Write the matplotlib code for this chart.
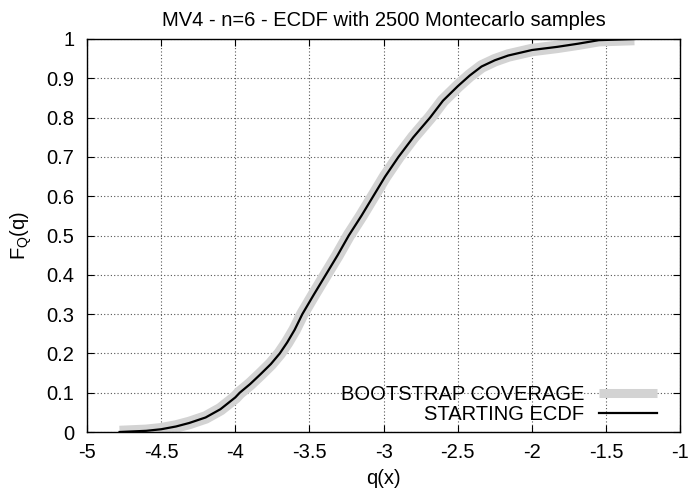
import numpy as np
import matplotlib
matplotlib.use('Agg')
import matplotlib.pyplot as plt
from matplotlib.lines import Line2D

plt.rcParams['font.family'] = ['Liberation Sans', 'DejaVu Sans']

# ECDF (q, F)
q_vals = [-4.78, -4.6, -4.5, -4.4, -4.31, -4.2, -4.1, -4.0, -3.97, -3.9, -3.83, -3.76,
          -3.7, -3.65, -3.6, -3.548, -3.47, -3.39, -3.31, -3.235, -3.15, -3.07, -2.99,
          -2.9, -2.8, -2.687, -2.6, -2.5, -2.42, -2.34, -2.25, -2.16, -2.0, -1.83,
          -1.69, -1.55, -1.31]
f_vals = [0.0, 0.003, 0.007, 0.014, 0.023, 0.037, 0.058, 0.088, 0.1, 0.122, 0.147, 0.173,
          0.2, 0.228, 0.26, 0.3, 0.35, 0.4, 0.45, 0.5, 0.55, 0.6, 0.65,
          0.7, 0.75, 0.8, 0.843, 0.88, 0.907, 0.93, 0.946, 0.958, 0.972, 0.98,
          0.988, 0.997, 1.0]

x_ticks = [-5, -4.5, -4, -3.5, -3, -2.5, -2, -1.5, -1]
x_labels = ['-5', '-4.5', '-4', '-3.5', '-3', '-2.5', '-2', '-1.5', '-1']
y_ticks = [0, 0.1, 0.2, 0.3, 0.4, 0.5, 0.6, 0.7, 0.8, 0.9, 1]
y_labels = ['0', '0.1', '0.2', '0.3', '0.4', '0.5', '0.6', '0.7', '0.8', '0.9', '1']

fs = 14.5
fig = plt.figure(figsize=(6.9, 5.0), dpi=100)
ax = fig.add_axes([0.126, 0.136, 0.860, 0.786])

# bootstrap coverage band as a wide gray stroke, starting ECDF on top
ax.plot(q_vals, f_vals, color='#d3d3d3', lw=9, solid_capstyle='butt', zorder=2)
ax.plot(q_vals, f_vals, color='black', lw=1.6, zorder=3)

ax.set_xlim(-5, -1)
ax.set_ylim(0, 1)
ax.set_xticks(x_ticks)
ax.set_xticklabels(x_labels)
ax.set_yticks(y_ticks)
ax.set_yticklabels(y_labels)
ax.tick_params(direction='in', length=5, top=True, right=True, labelsize=fs)
ax.tick_params(axis='x', pad=8)
ax.tick_params(axis='y', pad=9)
ax.grid(True, linestyle=(0, (1, 2)), color='#555555', lw=0.8)
for s in ax.spines.values():
    s.set_linewidth(1.0)

ax.set_title('MV4 - n=6 - ECDF with 2500 Montecarlo samples', fontsize=fs, pad=9)
ax.set_xlabel('q(x)', fontsize=fs, labelpad=5)
ax.set_ylabel('F$_\\mathregular{Q}$(q)', fontsize=fs, labelpad=9)

handles = [Line2D([], [], color='#d3d3d3', lw=6.5, solid_capstyle='butt'),
           Line2D([], [], color='black', lw=1.6)]
leg = ax.legend(handles, ['BOOTSTRAP COVERAGE', 'STARTING ECDF'],
                loc='lower right', frameon=False, markerfirst=False, fontsize=fs,
                handlelength=2.85, handletextpad=0.75, borderpad=0, borderaxespad=0,
                labelspacing=0.05, bbox_to_anchor=(0.960, 0.02))
for t in leg.get_texts():
    t.set_ha('right')

fig.savefig('out.png', dpi=100)
